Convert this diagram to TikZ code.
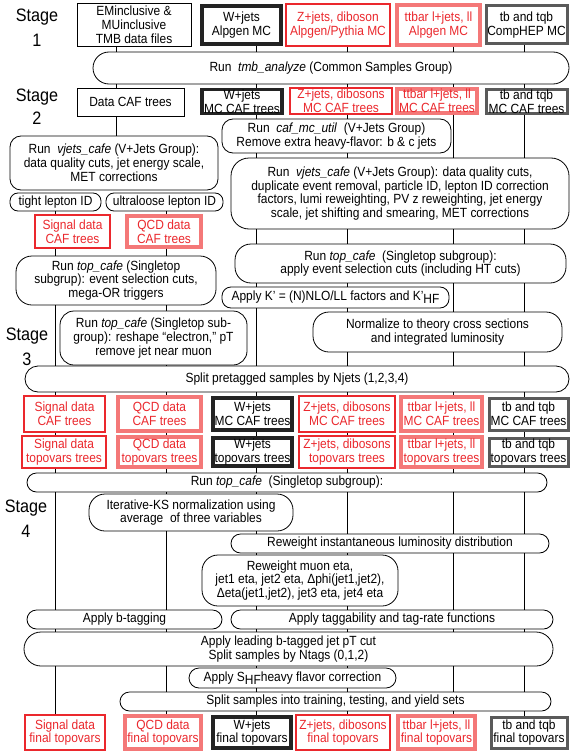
\documentclass[tikz,border=0pt]{standalone}
\usepackage{fontspec}
\setmainfont{Liberation Sans}[FakeStretch=0.9]
\usetikzlibrary{shapes.misc}
\definecolor{redC}{RGB}{235,40,45}
\definecolor{redL}{RGB}{244,120,120}
\definecolor{darkG}{RGB}{35,35,35}
\definecolor{midG}{RGB}{90,90,90}
\newcommand\fs{\fontsize{13.3}{13.8}\selectfont}
\newcommand\bx[7]{\node[#1,minimum width={(#4)-(#3)},minimum height={(#6)-(#5)}] (#2) at ({((#3)+(#4))/2},{((#5)+(#6))/2}) {#7};}
\newcommand\cn[3]{\draw[conn] (#1.south -| #3) -- (#2.north -| #3);}
\newcommand\sub[1]{\raisebox{-0.45ex}{#1}}
\tikzset{
 base/.style={fill=white, align=center, inner sep=0pt, font=\fs, text=black},
 plain/.style={base, draw, line width=0.8pt},
 rbox/.style={plain, rounded corners=11pt},
 stad/.style={base, draw, line width=0.8pt, rounded rectangle},
 redbox/.style={base, draw=redC, line width=1.2pt, text=redC},
 fadebox/.style={base, draw=redL, line width=3.2pt, text=redC},
 wbox/.style={base, draw=darkG, line width=3.5pt},
 tbbox/.style={base, draw=midG, line width=3pt},
 conn/.style={line width=0.8pt},
 stagef/.style={font=\fontsize{18}{18}\selectfont, inner sep=0pt},
}
\begin{document}
\begin{tikzpicture}[x=1pt,y=-1pt]
\useasboundingbox[fill=white] (0,0) rectangle (570,752);
\coordinate (c0) at (116,0);
\coordinate (cA) at (55,0);
\coordinate (cB) at (166,0);
\coordinate (cC) at (256,0);
\coordinate (cD) at (347,0);
\coordinate (cE) at (453,0);
\coordinate (cF) at (524,0);
% stage labels
\node[stagef] (s1a) at (37,17) {Stage};
\node[stagef] (s1b) at (37,40) {1};
\node[stagef] (s2a) at (37,97) {Stage};
\node[stagef] (s2b) at (37,118) {2};
\node[stagef] (s3a) at (27,336) {Stage};
\node[stagef] (s3b) at (27,359) {3};
\node[stagef] (s4a) at (26,508) {Stage};
\node[stagef] (s4b) at (26,531) {4};
% stage 1
\bx{plain}{em}{77}{191}{3}{46}{EMinclusive \&\\MUinclusive\\TMB data files}
\bx{wbox}{wA}{202}{281}{6}{44}{W+jets\\Alpgen MC}
\bx{redbox}{zA}{286}{390}{4}{46}{Z+jets, diboson\\Alpgen/Pythia MC}
\bx{fadebox}{tA}{397}{480}{5}{45}{ttbar l+jets, ll\\Alpgen MC}
\bx{tbbox}{bA}{486}{567}{6}{44}{tb and tqb\\CompHEP MC}
\bx{stad}{tmb}{93}{569}{52}{84}{Run \ \textit{tmb\_analyze} (Common Samples Group)}
% stage 2
\bx{plain}{dcaf}{77}{184}{88}{116}{Data CAF trees}
\bx{wbox}{wB}{202}{282}{90}{113}{W+jets\\MC CAF trees}
\bx{redbox}{zB}{290}{392}{88}{114}{Z+jets, dibosons\\MC CAF trees}
\bx{fadebox}{tB}{397}{477}{89}{113}{ttbar l+jets, ll\\MC CAF trees}
\bx{tbbox}{bB}{486}{567}{90}{113}{tb and tqb\\MC CAF trees}
\bx{rbox}{caf}{222}{451}{119}{153}{Run \ \textit{caf\_mc\_util} \ (V+Jets Group)\\Remove extra heavy-flavor: b \& c jets}
\bx{rbox}{vjL}{10}{218}{136}{190}{Run \ \textit{vjets\_cafe} (V+Jets Group):\\data quality cuts, jet energy scale,\\MET corrections}
\bx{rbox,rounded corners=18pt}{vjR}{231}{569}{158}{229}{Run \ \textit{vjets\_cafe} (V+Jets Group): data quality cuts,\\duplicate event removal, particle ID, lepton ID correction\\factors, lumi reweighting, PV z reweighting, jet energy\\scale, jet shifting and smearing, MET corrections}
\bx{rbox,rounded corners=8pt}{tight}{10}{101}{193}{211}{tight lepton ID}
\bx{rbox,rounded corners=8pt}{ultra}{106}{223}{193}{211}{ultraloose lepton ID}
\bx{redbox}{sig}{35}{110}{215}{248}{Signal data\\CAF trees}
\bx{fadebox}{qcd}{127}{201}{216}{247}{QCD data\\CAF trees}
\bx{rbox,rounded corners=16pt}{topL}{16}{216}{256}{305}{Run \textit{top\_cafe} (Singletop\\subgrup): event selection cuts,\\mega-OR triggers}
\bx{rbox,rounded corners=16pt}{topR}{235}{566}{244}{283}{Run \textit{top\_cafe} \ (Singletop subgroup):\\apply event selection cuts (including HT cuts)}
\bx{rbox,rounded corners=9pt}{Kp}{222}{449}{287}{308}{Apply K’ = (N)NLO/LL factors and K’\sub{HF}}
% stage 3
\bx{rbox,rounded corners=14pt}{reshape}{60}{247}{311}{365}{Run \textit{top\_cafe} (Singletop sub-\\group): reshape “electron,” pT\\remove jet near muon}
\bx{rbox,rounded corners=16pt}{norm}{313}{562}{312}{352}{Normalize to theory cross sections\\and integrated luminosity}
\bx{stad}{split1}{25}{569}{366}{392}{Split pretagged samples by Njets (1,2,3,4)}
\bx{redbox}{sc}{24}{105}{396}{432}{Signal data\\CAF trees}
\bx{fadebox}{qc}{118}{201}{397}{431}{QCD data\\CAF trees}
\bx{wbox}{wc}{213}{292}{398}{430}{W+jets\\MC CAF trees}
\bx{redbox}{zc}{299}{395}{396}{432}{Z+jets, dibosons\\MC CAF trees}
\bx{fadebox}{tc}{401}{482}{397}{431}{ttbar l+jets, ll\\MC CAF trees}
\bx{tbbox}{bc}{489}{568}{398}{430}{tb and tqb\\MC CAF trees}
\bx{redbox}{st}{22}{106}{436}{468}{Signal data\\topovars trees}
\bx{fadebox}{qt}{118}{201}{437}{467}{QCD data\\topovars trees}
\bx{wbox}{wt}{213}{292}{438}{466}{W+jets\\topovars trees}
\bx{redbox}{zt}{299}{395}{436}{468}{Z+jets, dibosons\\topovars trees}
\bx{fadebox}{tt}{401}{482}{437}{467}{ttbar l+jets, ll\\topovars trees}
\bx{tbbox}{bt}{489}{568}{438}{466}{tb and tqb\\topovars trees}
% stage 4
\bx{stad}{runtop}{27}{547}{473}{492}{Run \textit{top\_cafe} \ (Singletop subgroup):}
\bx{rbox,rounded corners=16pt}{iks}{89}{293}{494}{531}{Iterative-KS normalization using\\average \ of three variables}
\bx{stad}{rwinst}{231}{549}{534}{553}{Reweight instantaneous luminosity distribution}
\bx{rbox,rounded corners=16pt}{rwmuon}{202}{398}{555}{606}{Reweight muon eta,\\jet1 eta, jet2 eta, Δphi(jet1,jet2),\\Δeta(jet1,jet2), jet3 eta, jet4 eta}
\bx{stad}{btag}{27}{222}{610}{629}{Apply b-tagging}
\bx{stad}{tagrate}{231}{553}{610}{629}{Apply taggability and tag-rate functions}
\bx{stad}{leading}{24}{553}{632}{666}{Apply leading b-tagged jet pT cut\\Split samples by Ntags (0,1,2)}
\bx{stad}{shf}{189}{396}{668}{688}{Apply S\sub{HF}heavy flavor correction}
\bx{stad}{split2}{120}{551}{692}{711}{Split samples into training, testing, and yield sets}
\bx{redbox}{sf}{25}{105}{715}{750}{Signal data\\final topovars}
\bx{fadebox}{qf}{125}{201}{716}{749}{QCD data\\final topovars}
\bx{wbox}{wf}{213}{291}{717}{748}{W+jets\\final topovars}
\bx{redbox}{zf}{296}{390}{715}{750}{Z+jets, dibosons\\final topovars}
\bx{fadebox}{tf}{398}{475}{716}{749}{ttbar l+jets, ll\\final topovars}
\bx{tbbox}{bf}{491}{567}{717}{748}{tb and tqb\\final topovars}
% connectors stage 1-2
\cn{em}{tmb}{c0} \cn{tmb}{dcaf}{c0}
\cn{wA}{tmb}{cC} \cn{tmb}{wB}{cC}
\cn{zA}{tmb}{cD} \cn{tmb}{zB}{cD}
\cn{tA}{tmb}{cE} \cn{tmb}{tB}{cE}
\cn{bA}{tmb}{cF} \cn{tmb}{bB}{cF}
\cn{dcaf}{vjL}{c0}
\cn{wB}{caf}{cC} \cn{zB}{caf}{cD}
\cn{caf}{vjR}{cC} \cn{caf}{vjR}{cD}
\cn{tB}{vjR}{cE} \cn{bB}{vjR}{cF}
\cn{tight}{sig}{cA} \cn{ultra}{qcd}{cB}
\cn{sig}{topL}{cA} \cn{qcd}{topL}{cB}
\foreach \c in {cC,cD,cE,cF}{\cn{vjR}{topR}{\c}}
\cn{topR}{Kp}{cC} \cn{topR}{Kp}{cD}
\cn{topR}{norm}{cE} \cn{topR}{norm}{cF}
\cn{Kp}{norm}{cD} \cn{Kp}{split1}{cC}
% stage 3
\cn{topL}{reshape}{cB} \cn{topL}{split1}{cA} \cn{reshape}{split1}{cB}
\foreach \c in {cD,cE,cF}{\cn{norm}{split1}{\c}}
\foreach \a/\b/\c in {sc/st/cA, qc/qt/cB, wc/wt/cC, zc/zt/cD, tc/tt/cE, bc/bt/cF}{
  \cn{split1}{\a}{\c} \cn{\a}{\b}{\c} \cn{\b}{runtop}{\c}}
% stage 4
\cn{runtop}{btag}{cA} \cn{runtop}{iks}{cB} \cn{runtop}{iks}{cC}
\foreach \c in {cD,cE,cF}{\cn{runtop}{rwinst}{\c}}
\cn{iks}{btag}{cB} \cn{iks}{rwinst}{cC}
\cn{rwinst}{rwmuon}{cC} \cn{rwinst}{rwmuon}{cD}
\cn{rwinst}{tagrate}{cE} \cn{rwinst}{tagrate}{cF}
\cn{rwmuon}{tagrate}{cC} \cn{rwmuon}{tagrate}{cD}
\cn{btag}{leading}{cA} \cn{btag}{leading}{cB}
\foreach \c in {cC,cD,cE,cF}{\cn{tagrate}{leading}{\c}}
\cn{leading}{sf}{cA}
\cn{leading}{split2}{cB} \cn{leading}{split2}{cE} \cn{leading}{split2}{cF}
\cn{leading}{shf}{cC} \cn{leading}{shf}{cD}
\cn{shf}{split2}{cC} \cn{shf}{split2}{cD}
\cn{split2}{qf}{cB} \cn{split2}{wf}{cC} \cn{split2}{zf}{cD} \cn{split2}{tf}{cE} \cn{split2}{bf}{cF}
\end{tikzpicture}
\end{document}
